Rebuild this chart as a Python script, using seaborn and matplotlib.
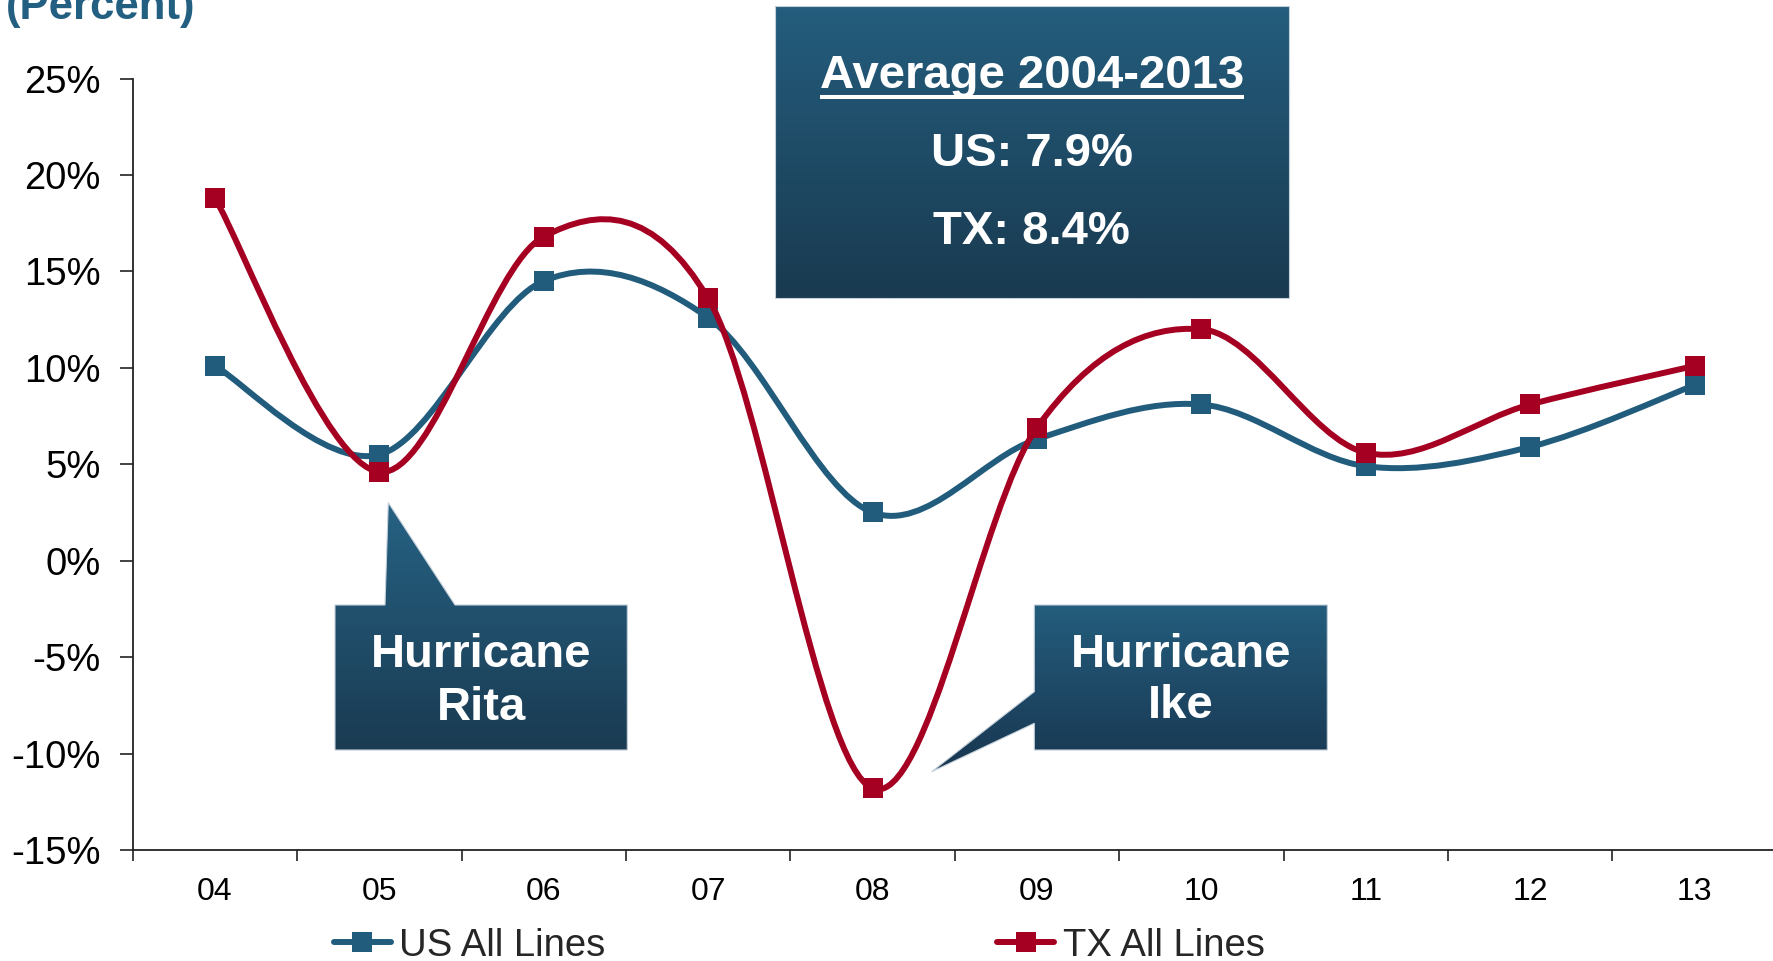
import numpy as np
import pandas as pd
import matplotlib
matplotlib.use("Agg")
import matplotlib.pyplot as plt
import seaborn as sns
from matplotlib.path import Path
from matplotlib.patches import PathPatch, Polygon
from matplotlib.lines import Line2D
from matplotlib.colors import LinearSegmentedColormap

# ---- data -------------------------------------------------------------
years = ["04", "05", "06", "07", "08", "09", "10", "11", "12", "13"]
us_all_lines = [10.1, 5.5, 14.5, 12.6, 2.5, 6.3, 8.1, 4.9, 5.9, 9.1]
tx_all_lines = [18.8, 4.6, 16.8, 13.6, -11.8, 6.9, 12.0, 5.6, 8.1, 10.1]
y_ticks = [-15, -10, -5, 0, 5, 10, 15, 20, 25]
series_names = ["US All Lines", "TX All Lines"]
avg_lines = ["Average 2004-2013", "US: 7.9%", "TX: 8.4%"]

US_BLUE = "#225C7D"
TX_RED = "#A50021"

sns.set_theme(style="white")
plt.rcParams["font.family"] = ["Liberation Sans", "DejaVu Sans"]

W, H = 1773, 961
fig = plt.figure(figsize=(W / 100, H / 100), dpi=100)
fig.patch.set_facecolor("white")

# main axes in pixel-derived figure fractions
ax_left, ax_right, ax_top, ax_bottom = 132.7, 1776.7, 78.5, 850.0
ax = fig.add_axes([ax_left / W, 1 - ax_bottom / H,
                   (ax_right - ax_left) / W, (ax_bottom - ax_top) / H])
ax.set_facecolor("white")

pos = np.arange(len(years))
df = pd.DataFrame({
    "pos": np.concatenate([pos, pos]),
    "value": us_all_lines + tx_all_lines,
    "series": [series_names[0]] * len(years) + [series_names[1]] * len(years),
})


def smooth_path(xs, ys):
    """Bezier path through the points with spreadsheet-style smoothing."""
    pts = np.column_stack([xs, ys]).astype(float)
    n = len(pts)
    verts = [pts[0]]
    codes = [Path.MOVETO]
    for i in range(n - 1):
        p0 = pts[max(i - 1, 0)]
        p1 = pts[i]
        p2 = pts[i + 1]
        p3 = pts[min(i + 2, n - 1)]
        c1 = p1 + (p2 - p0) / 6.0
        c2 = p2 - (p3 - p1) / 6.0
        verts += [c1, c2, p2]
        codes += [Path.CURVE4] * 3
    return Path(verts, codes)


for k, (name, color) in enumerate(zip(series_names, [US_BLUE, TX_RED])):
    sub = df[df["series"] == name]
    patch = PathPatch(smooth_path(sub["pos"].values, sub["value"].values),
                      facecolor="none", edgecolor=color, lw=4.3,
                      capstyle="round", joinstyle="round",
                      transform=ax.transData, zorder=2 + 2 * k)
    ax.add_patch(patch)
    sns.scatterplot(data=sub, x="pos", y="value", color=color, marker="s",
                    s=210, linewidth=0, legend=False, ax=ax, zorder=3 + 2 * k)

ax.set_xlim(-0.5, 9.5)
ax.set_ylim(-15, 25)
ax.set_xlabel("")
ax.set_ylabel("")

# y axis
ax.set_yticks(y_ticks)
ax.set_yticklabels([f"{v}%" for v in y_ticks])
ax.tick_params(axis="y", which="major", direction="out", length=9.4, width=1.2,
               color="#222222", pad=13.5, labelsize=27.5, labelcolor="black", left=True)

# x axis: tick marks between categories, labels at the centres
ax.set_xticks(np.arange(-0.5, len(years), 1.0))
ax.set_xticklabels([])
ax.set_xticks(pos, minor=True)
ax.set_xticklabels(years, minor=True)
ax.tick_params(axis="x", which="major", direction="out", length=8, width=1.2,
               color="#222222", bottom=True)
ax.tick_params(axis="x", which="minor", length=0, pad=19.5, labelsize=23,
               labelcolor="black", bottom=True)

for side in ["top", "right"]:
    ax.spines[side].set_visible(False)
for side in ["left", "bottom"]:
    ax.spines[side].set_color("#222222")
    ax.spines[side].set_linewidth(1.3)
ax.grid(False)

# ---- overlay in pixel coordinates for the callouts ---------------------
ov = fig.add_axes([0, 0, 1, 1], zorder=10)
ov.patch.set_alpha(0)
ov.axis("off")


def gradient_shape(verts, top, bottom):
    verts = np.asarray(verts, dtype=float)
    x0, x1 = verts[:, 0].min(), verts[:, 0].max()
    y0, y1 = verts[:, 1].min(), verts[:, 1].max()
    cmap = LinearSegmentedColormap.from_list("fill", [top, bottom])
    grad = np.linspace(0, 1, 256).reshape(-1, 1)
    im = ov.imshow(grad, cmap=cmap, extent=(x0, x1, y1, y0), aspect="auto",
                   origin="upper", interpolation="bilinear", zorder=1)
    clip = Polygon(verts, closed=True, transform=ov.transData,
                   facecolor="none", edgecolor="none")
    ov.add_patch(clip)
    im.set_clip_path(clip)
    edge = Polygon(verts, closed=True, facecolor="none", edgecolor="#c4d0da",
                   lw=0.8, zorder=2)
    ov.add_patch(edge)


# average box
gradient_shape([(774.8, 6), (1288.6, 6), (1288.6, 297.7), (774.8, 297.7)],
               "#245D7D", "#193A50")
# Hurricane Rita callout
gradient_shape([(335, 605), (385, 605), (388.3, 502.7), (455, 605), (627.3, 605),
                (627.3, 750), (335, 750)], "#266283", "#1A3B52")
# Hurricane Ike callout
gradient_shape([(1034.3, 605), (1327.3, 605), (1327.3, 750), (1034.3, 750),
                (1034.3, 723.3), (931.7, 771.7), (1034.3, 691.7)],
               "#245D7D", "#183650")

ov.set_xlim(0, W)
ov.set_ylim(H, 0)

txt_kw = dict(ha="center", va="baseline", color="white", fontsize=34,
              fontweight="bold", zorder=5)
title_txt = ov.text(1031.7, 88.3, avg_lines[0], **txt_kw)
ov.text(1031.7, 165.7, avg_lines[1], **txt_kw)
ov.text(1031.7, 244.3, avg_lines[2], **txt_kw)
ov.text(481.2, 666.7, "Hurricane", **txt_kw)
ov.text(481.2, 720.0, "Rita", **txt_kw)
ov.text(1180.8, 666.7, "Hurricane", **txt_kw)
ov.text(1180.8, 718.3, "Ike", **txt_kw)

# underline the box heading
fig.canvas.draw()
bb = title_txt.get_window_extent(renderer=fig.canvas.get_renderer())
ov.plot([bb.x0, bb.x1], [96.7, 96.7], color="white", lw=2.9,
        solid_capstyle="butt", zorder=5)
ov.set_xlim(0, W)
ov.set_ylim(H, 0)

# unit label
fig.text(6 / W, 1 - 19.5 / H, "(Percent)", fontsize=31.5, fontweight="bold",
         color="#235F80", ha="left", va="baseline")

# legend entries
for name, color, x_px in [(series_names[0], US_BLUE, 333.6),
                          (series_names[1], TX_RED, 997.0)]:
    handle = Line2D([], [], color=color, lw=4.3, marker="s", markersize=14.5,
                    markeredgewidth=0)
    fig.legend([handle], [name], loc="center left",
               bbox_to_anchor=(x_px / W, 1 - 945.5 / H), frameon=False,
               borderpad=0, borderaxespad=0, handlelength=1.5,
               handletextpad=0.22, fontsize=27.5)

fig.savefig("out.png", dpi=100, facecolor="white")
